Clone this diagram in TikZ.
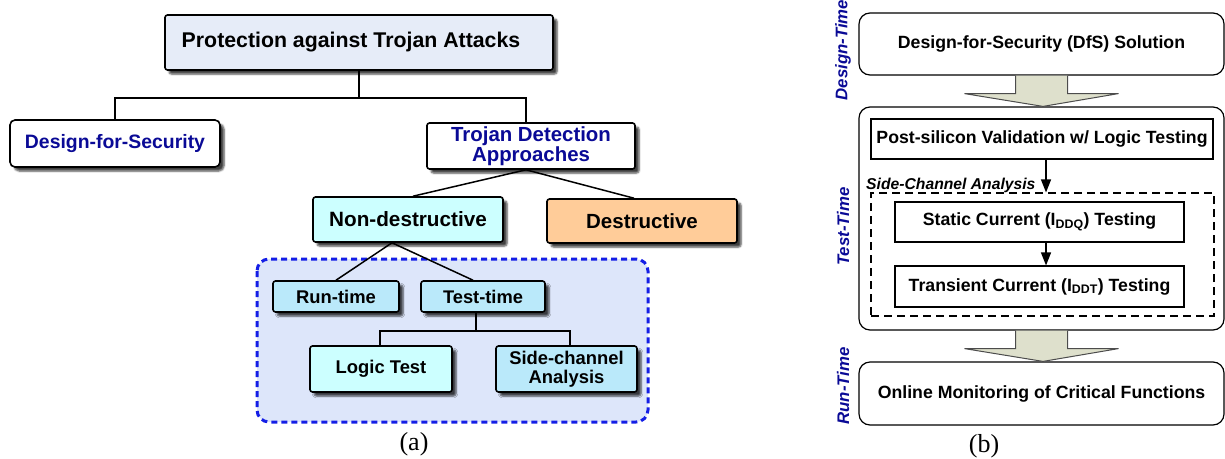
\documentclass[tikz,border=0pt]{standalone}
\usepackage{fontspec}
\setmainfont{Liberation Serif}
\setsansfont{Liberation Sans}
\usetikzlibrary{shadows.blur,arrows.meta,calc}
\definecolor{dkblue}{RGB}{10,10,150}
\definecolor{topfill}{RGB}{230,236,248}
\definecolor{cyanfill}{RGB}{204,255,255}
\definecolor{skyfill}{RGB}{186,233,250}
\definecolor{orangefill}{RGB}{255,204,153}
\definecolor{regionfill}{RGB}{221,230,250}
\definecolor{regionline}{RGB}{20,30,230}
\definecolor{arrowfill}{RGB}{222,224,204}
\newcommand{\fs}[2]{\fontsize{#1}{#2}\selectfont}
\tikzset{
  abox/.style={draw, line width=1.6pt, rounded corners=2.5pt, inner sep=0pt,
    font=\sffamily\bfseries, align=center,
    blur shadow={shadow xshift=4pt, shadow yshift=-4pt, shadow blur steps=5, shadow opacity=75}},
  conn/.style={line width=1.5pt},
  rbox/.style={draw, line width=1.2pt, rounded corners=11pt, inner sep=0pt, fill=white,
    font=\sffamily\bfseries\fs{17.7}{20}},
  sbox/.style={draw, line width=1.2pt, inner sep=0pt, fill=white,
    font=\sffamily\bfseries\fs{17.7}{20}},
  vlabel/.style={rotate=90, text=dkblue, font=\sffamily\bfseries\itshape\fs{16.8}{18}},
  bigarrow/.style={draw=black!70, line width=1pt, fill=arrowfill, line join=miter},
  tip/.style={line width=1.3pt, -{Triangle[length=13pt,width=10pt]}},
  caption/.style={font=\rmfamily\fs{26}{28}}
}
\begin{document}
\begin{tikzpicture}[x=1pt,y=-1pt]
\useasboundingbox (0,0) rectangle (1225,458);

% ---------------- (a) ----------------
\fill[regionfill, rounded corners=12pt] (257,259) rectangle (648,422);
\draw[regionline, line width=3pt, rounded corners=12pt, dash pattern=on 6pt off 4pt] (257,259) rectangle (648,422);

\node[abox, fill=topfill, minimum width=388pt, minimum height=55pt, font=\sffamily\bfseries\fs{21.3}{23}] (top) at (359,42.5) {\hspace*{-16pt}Protection against Trojan Attacks};
\node[abox, fill=white, text=dkblue, minimum width=210pt, minimum height=47pt, rounded corners=5pt, font=\sffamily\bfseries\fs{19.4}{21}] (dfs) at (115,143.5) {Design-for-Security};
\node[abox, fill=white, text=dkblue, minimum width=208pt, minimum height=46pt, font=\sffamily\bfseries\fs{20.4}{20.5}] (tda) at (531,146) {Trojan Detection\\Approaches};
\node[abox, fill=cyanfill, minimum width=190pt, minimum height=45pt, font=\sffamily\bfseries\fs{20.7}{22}] (nd) at (408,219.5) {Non-destructive};
\node[abox, fill=orangefill, minimum width=190pt, minimum height=44pt, font=\sffamily\bfseries\fs{20.5}{22}] (des) at (642,221) {Destructive};
\node[abox, fill=skyfill, minimum width=126pt, minimum height=31pt, font=\sffamily\bfseries\fs{18.4}{20}] (run) at (336,296.5) {Run-time};
\node[abox, fill=skyfill, minimum width=124pt, minimum height=31pt, font=\sffamily\bfseries\fs{18.3}{20}] (tt) at (483,296.5) {Test-time};
\node[abox, fill=cyanfill, minimum width=142pt, minimum height=46pt, font=\sffamily\bfseries\fs{18.4}{20}] (lt) at (381,369) {Logic Test};
\node[abox, fill=skyfill, minimum width=141pt, minimum height=46pt, font=\sffamily\bfseries\fs{18.4}{18.5}] (sc) at (566.5,369) {Side-channel\\Analysis};

\draw[conn] (top.south) -- ++(0,27);
\draw[conn] (dfs.north) |- ($(top.south)+(0,27)$) -| ([xshift=-5pt]tda.north);
\draw[conn] ([xshift=-5pt]tda.south) -- ([xshift=5pt]nd.north);
\draw[conn] ([xshift=-5pt]tda.south) -- ([xshift=-8pt]des.north);
\draw[conn] ([xshift=-16pt]nd.south) -- (run.north);
\draw[conn] ([xshift=-16pt]nd.south) -- ([xshift=-10pt]tt.north);
\draw[conn] ([xshift=-7pt]tt.south) -- ++(0,18);
\draw[conn] ([xshift=-1pt]lt.north) |- ($([xshift=-7pt]tt.south)+(0,18)$) -| ([xshift=3.5pt]sc.north);

\node[caption] (capa) at (414,444) {(a)};

% ---------------- (b) ----------------
\node[rbox, minimum width=365pt, minimum height=62pt] (dfsb) at (1041.5,44) {Design-for-Security (DfS) Solution};
\node[rbox, minimum width=365pt, minimum height=223pt] (testbig) at (1041.5,218.5) {};
\node[sbox, minimum width=342pt, minimum height=40pt] (post) at (1042,139) {Post-silicon Validation w/ Logic Testing};
\node[draw, line width=1.1pt, dash pattern=on 8pt off 5pt, inner sep=0pt, minimum width=343pt, minimum height=123pt] (sca) at (1042.5,254.5) {};
\node[anchor=base west, inner sep=0pt, font=\sffamily\bfseries\itshape\fs{15.7}{17}] (scalabel) at (866,189.5) {Side-Channel Analysis};
\node[sbox, minimum width=289pt, minimum height=40pt] (static) at (1039.5,222) {Static Current (I\textsubscript{DDQ}) Testing};
\node[sbox, minimum width=289pt, minimum height=41pt] (trans) at (1039.5,286.5) {Transient Current (I\textsubscript{DDT}) Testing};
\node[rbox, minimum width=365pt, minimum height=63pt] (online) at (1041.5,393.5) {Online Monitoring of Critical Functions};

\draw[bigarrow] ($(dfsb.south)+(-26,0)$) -- ++(0,18) -- ++(-51,0) -- ([xshift=1.5pt]testbig.north) -- ($(dfsb.south)+(77,18)$) -- ++(-51,0) -- ++(0,-18);
\draw[bigarrow] ($(testbig.south)+(-26,0)$) -- ++(0,18) -- ++(-51,0) -- ([xshift=1.5pt]online.north) -- ($(testbig.south)+(77,18)$) -- ++(-51,0) -- ++(0,-18);

\draw[tip] ([xshift=4pt]post.south) -- ([xshift=3.5pt]sca.north);
\draw[tip] ([xshift=6.5pt]static.south) -- ([xshift=6.5pt]trans.north);

\node[vlabel] (vl1) at (843,50) {Design-Time};
\node[vlabel] (vl2) at (843,226.5) {Test-Time};
\node[vlabel] (vl3) at (843,386) {Run-Time};

\node[caption] (capb) at (984,446) {(b)};
\end{tikzpicture}
\end{document}
